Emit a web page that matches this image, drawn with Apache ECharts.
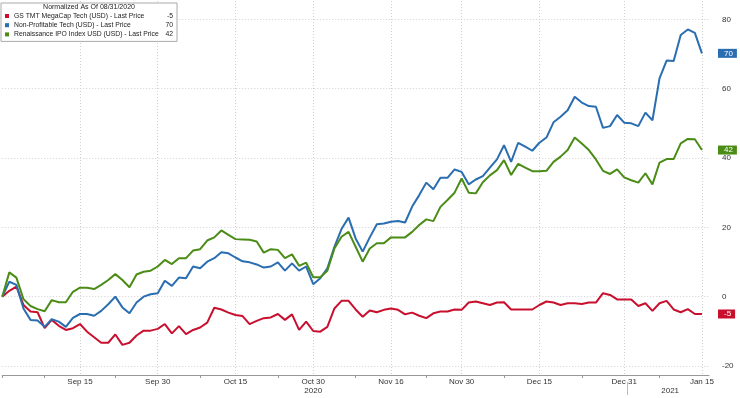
<!DOCTYPE html>
<html>
<head>
<meta charset="utf-8">
<script src="https://cdn.jsdelivr.net/npm/echarts@6/dist/echarts.min.js"></script>
<style>
  html, body { margin: 0; padding: 0; background: #fff; }
  #chart { width: 740px; height: 398px; }
</style>
</head>
<body>
<div id="chart"></div>
<script>
// weekday index from 08/31/2020 (0) to 01/15/2021 (99)
var seriesNames = [
  'GS TMT MegaCap Tech (USD) - Last Price',
  'Non-Profitable Tech (USD) - Last Price',
  'Renaissance IPO Index USD (USD) - Last Price'
]
var redVals = [
  0, 1.7, 2.9, -2.4, -4.3, -4.5, -9.1, -6.7, -8.4, -9.6,
  -9.1, -7.9, -10.1, -11.7, -13.3, -13.3, -10.9, -13.9, -13.3, -11.2,
  -9.8, -9.8, -9.3, -7.9, -10.6, -8.5, -10.8, -9.6, -8.9, -7.5,
  -3.2, -3.7, -4.6, -5.3, -5.6, -7.9, -7.0, -6.2, -6.0, -5.0,
  -6.7, -5.1, -9.6, -7.2, -9.9, -10.1, -8.7, -3.4, -1.2, -1.2,
  -3.7, -5.8, -4.0, -4.5, -3.8, -3.4, -3.8, -5.1, -4.6, -5.5,
  -6.2, -4.8, -4.3, -4.3, -3.7, -3.8, -1.7, -1.4, -1.9, -2.4,
  -1.7, -1.6, -3.7, -3.7, -3.7, -3.7, -2.4, -1.4, -1.7, -2.4,
  -1.9, -1.9, -2.1, -1.7, -1.7, 1.0, 0.5, -0.8, -0.8, -0.8,
  -2.7, -1.9, -4.1, -1.9, -1.2, -3.7, -4.5, -3.6, -5.0, -5.0
]
var blueVals = [
  0, 4.3, 3.4, -3.4, -6.7, -6.9, -8.7, -6.5, -7.2, -8.7,
  -6.1, -5.0, -5.0, -5.5, -4.1, -2.2, 0, -3.1, -4.8, -1.7,
  0, 0.7, 1.0, 4.6, 3.1, 5.5, 5.3, 8.7, 8.2, 10.1,
  11.1, 12.8, 12.5, 11.3, 10.2, 9.9, 9.3, 8.4, 8.7, 9.9,
  7.5, 9.6, 7.5, 8.7, 3.6, 5.3, 8.2, 14.4, 19.5, 22.8,
  16.8, 13.0, 17.1, 20.9, 21.1, 21.6, 21.8, 21.4, 26.0, 29.3,
  32.9, 31.0, 34.3, 34.3, 36.7, 36.0, 32.4, 33.8, 34.8, 37.2,
  39.6, 43.7, 38.9, 44.4, 43.3, 42.1, 44.4, 45.9, 50.3, 51.9,
  53.8, 57.7, 56.0, 55.0, 54.8, 48.7, 49.2, 52.4, 50.2, 50.0,
  49.2, 53.1, 50.9, 63.0, 68.1, 68.0, 75.5, 77.1, 76.1, 70.2
]
var greenVals = [
  0, 7.0, 5.5, -0.7, -2.7, -3.6, -4.2, -1.0, -1.6, -1.6,
  1.4, 2.6, 2.6, 2.2, 3.4, 4.8, 6.5, 4.8, 2.7, 6.4,
  7.2, 7.5, 8.7, 10.6, 9.4, 11.1, 11.1, 13.3, 13.7, 16.2,
  17.1, 19.1, 17.8, 16.6, 16.5, 16.4, 15.9, 12.7, 13.7, 13.5,
  11.1, 12.2, 8.9, 9.8, 5.6, 5.6, 7.5, 13.9, 17.3, 18.7,
  14.4, 10.1, 13.9, 15.4, 15.4, 17.1, 17.1, 17.1, 18.7, 20.7,
  22.3, 21.8, 25.9, 27.9, 30.0, 34.1, 30.0, 29.8, 33.0, 35.0,
  36.5, 39.4, 35.1, 38.3, 37.2, 36.2, 36.2, 36.3, 38.9, 40.4,
  42.3, 45.9, 44.2, 42.3, 39.6, 36.3, 35.4, 36.7, 34.4, 33.6,
  32.9, 35.6, 32.4, 38.7, 39.7, 39.7, 44.2, 45.5, 45.4, 42.3
]
var colors = ['#c8102e', '#2a6db0', '#4a8c16']

var dateTickIdx = [11, 22, 33, 44, 55, 65, 76, 88, 99]
var dateTickLabels = ['Sep 15', 'Sep 30', 'Oct 15', 'Oct 30', 'Nov 16', 'Nov 30', 'Dec 15', 'Dec 31', 'Jan 15']
var minorTickIdx = [0, 6, 16, 28, 39, 50, 60, 71, 82, 93]
var yearIdx = [44, 94.5]
var yearLabels = ['2020', '2021']
var yearBreakIdx = [88.4]
var yTicks = [-20, 0, 20, 40, 60, 80]

var font = 'Liberation Sans, Arial, sans-serif'
var allVals = [redVals, blueVals, greenVals]

var chart = echarts.init(document.getElementById('chart'))

var series = allVals.map(function (vals, k) {
  var last = vals[vals.length - 1]
  return {
    name: seriesNames[k],
    type: 'line',
    data: vals.map(function (v, i) { return [i, v] }),
    showSymbol: false,
    symbol: 'none',
    lineStyle: { color: colors[k], width: 2 },
    itemStyle: { color: colors[k] },
    markLine: {
      silent: true,
      symbol: 'none',
      lineStyle: { width: 0, color: 'rgba(0,0,0,0)' },
      label: {
        show: true,
        position: 'end',
        distance: 9,
        formatter: String(Math.round(last)),
        color: '#fff',
        fontFamily: font,
        fontSize: 8,
        backgroundColor: colors[k],
        padding: [1, 4, 0, 6]
      },
      data: [{ yAxis: last }]
    }
  }
})

var option = {
  animation: false,
  backgroundColor: '#fff',
  textStyle: { fontFamily: font },
  grid: { left: 2.25, right: 31, top: 1, bottom: 23 },
  legend: {
    orient: 'vertical',
    left: 1,
    top: 3,
    padding: [9, 4, 3, 4],
    itemGap: 1.2,
    itemWidth: 4,
    itemHeight: 4,
    icon: 'rect',
    selectedMode: false,
    backgroundColor: '#fff',
    borderColor: '#aaa',
    borderWidth: 1,
    data: seriesNames,
    formatter: function (name) {
      var k = seriesNames.indexOf(name)
      var vals = allVals[k]
      return '{n|' + name + '}{v|' + Math.round(vals[vals.length - 1]) + '}'
    },
    textStyle: {
      fontFamily: font,
      fontSize: 7,
      lineHeight: 8,
      color: '#222',
      rich: {
        n: { width: 150, fontSize: 6.8, lineHeight: 8, color: '#222', fontFamily: font },
        v: { width: 9, align: 'right', fontSize: 6.8, lineHeight: 8, color: '#222', fontFamily: font }
      }
    }
  },
  graphic: [{
    type: 'text',
    z: 100,
    style: {
      text: 'Normalized As Of 08/31/2020',
      x: 89,
      y: 7.5,
      textAlign: 'center',
      textVerticalAlign: 'middle',
      fontFamily: font,
      fontSize: 7,
      fill: '#222'
    }
  }],
  xAxis: [{
    type: 'value',
    min: 0,
    max: 100,
    position: 'bottom',
    axisLine: { show: true, onZero: false, lineStyle: { color: '#999', width: 1 } },
    axisTick: { show: false, customValues: dateTickIdx },
    axisLabel: {
      customValues: dateTickIdx,
      formatter: function (v) { return dateTickLabels[dateTickIdx.indexOf(v)] || '' },
      fontFamily: font,
      fontSize: 8,
      color: '#333',
      margin: 3
    },
    splitLine: { show: true, lineStyle: { color: '#d0d0d0', type: [1, 2], width: 1 } }
  }, {
    type: 'value',
    min: 0,
    max: 100,
    position: 'bottom',
    axisLine: { show: false, onZero: false },
    axisTick: { show: true, customValues: minorTickIdx, length: 3, lineStyle: { color: '#999' } },
    axisLabel: {
      customValues: yearIdx,
      formatter: function (v) { return yearLabels[yearIdx.indexOf(v)] || '' },
      fontFamily: font,
      fontSize: 8,
      color: '#333',
      margin: 12
    },
    splitLine: { show: false }
  }, {
    type: 'value',
    min: 0,
    max: 100,
    position: 'bottom',
    offset: 7,
    axisLine: { show: false, onZero: false },
    axisTick: { show: true, customValues: yearBreakIdx, length: 13, lineStyle: { color: '#bbb' } },
    axisLabel: { show: false },
    splitLine: { show: false }
  }],
  yAxis: {
    type: 'value',
    position: 'right',
    min: -22.6,
    max: 85.3,
    axisLine: { show: false },
    axisTick: { show: false, customValues: yTicks },
    axisLabel: {
      customValues: yTicks,
      fontFamily: font,
      fontSize: 8,
      color: '#333',
      margin: 13
    },
    splitLine: { show: true, lineStyle: { color: '#d0d0d0', type: [1, 2], width: 1 } }
  },
  series: series
}

chart.setOption(option)
</script>
</body>
</html>
